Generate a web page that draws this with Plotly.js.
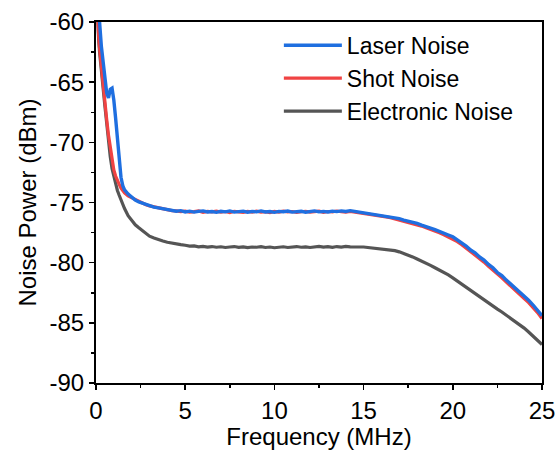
<!DOCTYPE html>
<html>
<head>
<meta charset="utf-8">
<script src="https://cdn.plot.ly/plotly-3.0.1.min.js"></script>
<style>html,body{margin:0;padding:0;background:#fff;}#chart{width:558px;height:450px;}</style>
</head>
<body>
<div id="chart"></div>
<script>
// Frequency (MHz)
const freq = [0.05,0.1,0.15,0.2,0.3,0.4,0.5,0.6,0.7,0.8,0.9,1.0,1.1,1.2,1.3,1.4,1.5,1.6,1.8,2.0,2.2,2.4,2.6,2.8,3.0,3.25,3.5,3.75,
  4,4.25,4.5,4.75,5,5.25,5.5,5.75,6,6.25,6.5,6.75,7,7.25,7.5,7.75,8,8.25,8.5,8.75,9,9.25,9.5,9.75,
  10,10.25,10.5,10.75,11,11.25,11.5,11.75,12,12.25,12.5,12.75,13,13.25,13.5,13.75,14,14.25,14.5,14.75,
  15,15.25,15.5,15.75,16,16.25,16.5,16.75,17,17.25,17.5,17.75,18,18.25,18.5,18.75,19,19.25,19.5,19.75,
  20,20.25,20.5,20.75,21,21.25,21.5,21.75,22,22.25,22.5,22.75,23,23.25,23.5,23.75,24,24.25,24.5,24.75,25];

// Laser Noise (dBm)
const laserNoise = [-55.0,-57.0,-58.6,-60.0,-62.0,-63.4,-64.6,-65.9,-66.3,-65.6,-65.5,-66.5,-68.0,-69.8,-71.8,-72.9,-73.6,-73.95,-74.3,-74.55,-74.8,-74.95,-75.05,-75.2,-75.3,-75.38,-75.45,-75.52,
  -75.60,-75.66,-75.72,-75.68,-75.78,-75.72,-75.80,-75.74,-75.70,-75.79,-75.75,-75.82,-75.73,-75.78,-75.70,-75.80,-75.76,-75.72,-75.81,-75.74,-75.78,-75.70,-75.79,-75.75,
  -75.82,-75.74,-75.77,-75.71,-75.80,-75.76,-75.73,-75.81,-75.75,-75.70,-75.78,-75.74,-75.79,-75.72,-75.76,-75.70,-75.75,-75.68,-75.74,-75.80,
  -75.84,-75.92,-75.95,-76.02,-76.06,-76.10,-76.20,-76.26,-76.34,-76.46,-76.53,-76.62,-76.74,-76.88,-76.97,-77.12,-77.25,-77.38,-77.56,-77.70,
  -77.85,-78.08,-78.36,-78.62,-78.95,-79.18,-79.52,-79.78,-80.15,-80.42,-80.82,-81.08,-81.45,-81.78,-82.12,-82.43,-82.80,-83.12,-83.52,-83.92,-84.40];

// Shot Noise (dBm)
const shotNoise = [-58.0,-60.0,-61.2,-62.2,-63.8,-65.0,-66.4,-68.1,-69.4,-70.5,-71.5,-72.3,-72.8,-73.2,-73.5,-73.8,-74.05,-74.2,-74.45,-74.6,-74.8,-74.95,-75.08,-75.18,-75.28,-75.36,-75.46,-75.54,
  -75.62,-75.68,-75.70,-75.76,-75.72,-75.80,-75.76,-75.70,-75.82,-75.74,-75.78,-75.72,-75.80,-75.75,-75.84,-75.73,-75.78,-75.82,-75.74,-75.79,-75.72,-75.80,-75.76,-75.83,
  -75.74,-75.80,-75.72,-75.78,-75.75,-75.82,-75.77,-75.73,-75.80,-75.76,-75.72,-75.81,-75.75,-75.78,-75.71,-75.77,-75.80,-75.74,-75.79,-75.83,
  -75.88,-75.95,-76.00,-76.08,-76.12,-76.20,-76.26,-76.36,-76.42,-76.55,-76.62,-76.74,-76.84,-76.96,-77.10,-77.22,-77.38,-77.52,-77.68,-77.85,
  -78.02,-78.25,-78.50,-78.78,-79.08,-79.35,-79.66,-79.96,-80.30,-80.60,-80.96,-81.26,-81.62,-81.94,-82.30,-82.62,-82.98,-83.32,-83.72,-84.15,-84.65];

// Electronic Noise (dBm)
const electronicNoise = [-58.0,-60.2,-61.5,-62.5,-64.2,-65.6,-67.0,-68.4,-70.0,-71.2,-72.2,-72.9,-73.5,-74.0,-74.4,-74.8,-75.15,-75.5,-76.1,-76.5,-76.85,-77.1,-77.35,-77.6,-77.8,-77.95,-78.1,-78.2,
  -78.30,-78.38,-78.45,-78.50,-78.55,-78.62,-78.60,-78.68,-78.64,-78.70,-78.66,-78.72,-78.68,-78.74,-78.70,-78.66,-78.73,-78.69,-78.75,-78.70,-78.72,-78.67,-78.74,-78.70,
  -78.76,-78.71,-78.68,-78.74,-78.70,-78.66,-78.72,-78.69,-78.74,-78.68,-78.64,-78.70,-78.67,-78.72,-78.66,-78.70,-78.64,-78.68,-78.66,-78.70,
  -78.70,-78.74,-78.76,-78.80,-78.83,-78.88,-78.93,-79.00,-79.10,-79.22,-79.35,-79.52,-79.70,-79.86,-80.05,-80.22,-80.42,-80.60,-80.82,-81.02,
  -81.26,-81.52,-81.80,-82.08,-82.36,-82.60,-82.86,-83.10,-83.36,-83.60,-83.86,-84.10,-84.36,-84.60,-84.86,-85.14,-85.44,-85.76,-86.10,-86.44,-86.80];

const FONT = 'Arial, "Liberation Sans", sans-serif';
const FS = 24;

const traces = [
  {x: freq, y: electronicNoise, name: 'Electronic Noise', type: 'scatter', mode: 'lines',
   line: {color: '#555555', width: 3.2}},
  {x: freq, y: shotNoise, name: 'Shot Noise', type: 'scatter', mode: 'lines',
   line: {color: '#f04343', width: 3.2}},
  {x: freq, y: laserNoise, name: 'Laser Noise', type: 'scatter', mode: 'lines',
   line: {color: '#1f6fe0', width: 3.4}}
];

const layout = {
  width: 558, height: 450,
  margin: {l: 96, r: 16, t: 22, b: 67},
  paper_bgcolor: '#fff', plot_bgcolor: '#fff',
  font: {family: FONT, size: FS, color: '#000'},
  showlegend: true,
  legend: {x: 0.41, y: 0.995, xanchor: 'left', yanchor: 'top', traceorder: 'reversed',
           bgcolor: 'rgba(0,0,0,0)', borderwidth: 0, font: {family: FONT, size: 23, color: '#000'},
           itemwidth: 58, tracegroupgap: 0},
  xaxis: {
    range: [0, 25], tickvals: [0,5,10,15,20,25], ticktext: ['0','5','10','15','20','25'],
    showgrid: false, zeroline: false, showline: true, linecolor: '#000', linewidth: 2, mirror: true,
    ticks: 'outside', ticklen: 5, tickwidth: 1.5, tickcolor: '#000',
    minor: {dtick: 2.5, tick0: 0, ticks: 'outside', ticklen: 3, tickwidth: 1.5, tickcolor: '#000', showgrid: false},
    tickfont: {family: FONT, size: FS, color: '#000'},
    title: {text: 'Frequency (MHz)', font: {family: FONT, size: FS, color: '#000'}, standoff: 4}
  },
  yaxis: {
    range: [-90, -60], tickvals: [-90,-85,-80,-75,-70,-65,-60], ticktext: ['-90','-85','-80','-75','-70','-65','-60'],
    showgrid: false, zeroline: false, showline: true, linecolor: '#000', linewidth: 2, mirror: true,
    ticks: 'outside', ticklen: 5, tickwidth: 1.5, tickcolor: '#000',
    minor: {dtick: 2.5, tick0: -90, ticks: 'outside', ticklen: 3, tickwidth: 1.5, tickcolor: '#000', showgrid: false},
    tickfont: {family: FONT, size: FS, color: '#000'},
    title: {text: 'Noise Power (dBm)', font: {family: FONT, size: FS, color: '#000'}, standoff: 6}
  }
};

Plotly.newPlot('chart', traces, layout, {displayModeBar: false, staticPlot: true});
</script>
</body>
</html>
